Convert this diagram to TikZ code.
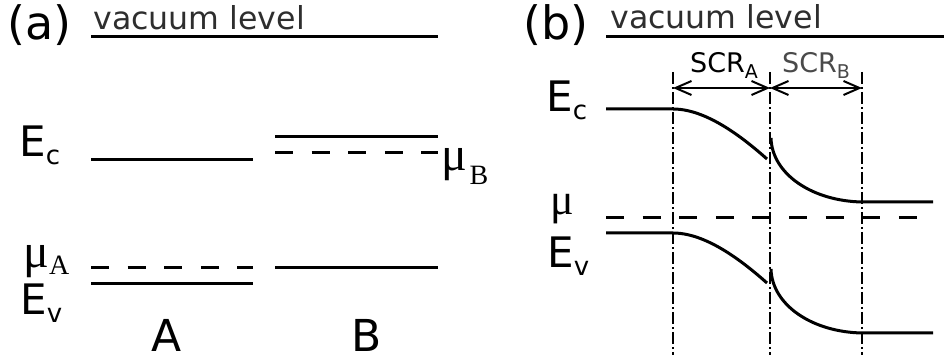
\documentclass[tikz,border=0pt]{standalone}
\usepackage{fontspec}
\setmainfont{DejaVu Sans}
\newfontfamily\fontemu{Liberation Serif}
\usetikzlibrary{
    positioning,
    calc,
    arrows.meta
}
\definecolor{CinzaTexto}{HTML}{2E2E2E}
\definecolor{CinzaEscuro}{HTML}{4A4A4A}

% rotulos de energia
\newcommand{\rotE}[1]{\fontsize{21}{21}\selectfont E\raisebox{-4pt}{\fontsize{13}{13}\selectfont #1}}
\newcommand{\rotMu}[3]{{\fontemu\fontsize{#1}{#1}\selectfont μ\raisebox{#2}{\fontsize{14}{14}\selectfont #3}}}
\newcommand{\rotSCR}[1]{\fontsize{13.5}{13.5}\selectfont SCR\raisebox{-3pt}{\fontsize{9.5}{9.5}\selectfont #1}}

\tikzset{
    nivel/.style={line width=1.5pt},
    fermi/.style={line width=1.5pt, dash pattern=on 9pt off 9.3pt},
    regiao/.style={line width=0.75pt, dash pattern=on 6pt off 1.5pt on 1pt off 1.5pt},
    texto/.style={inner sep=0pt, anchor=base west},
    vacuo/.style={inner sep=0pt, anchor=base west, text=CinzaTexto, font=\fontsize{15.8}{15.8}\selectfont},
    seta/.style={{Straight Barb[length=8pt,width=7pt]}-{Straight Barb[length=8pt,width=7pt]}, line width=1pt}
}

\begin{document}
\begin{tikzpicture}[x=0.5pt, y=-0.5pt]
    \useasboundingbox (0,0) rectangle (944,363);

    % (a) antes do contato
    \node[texto] (la) at (7,40) {\fontsize{23}{23}\selectfont (a)};
    \node[vacuo] (vaca) at (93,30) {vacuum level};
    \draw[nivel] (91,37) -- (438,37);

    \draw[nivel] (91,160) -- (253,160);
    \draw[fermi] (91,268) -- (253,268);
    \draw[nivel] (91,284) -- (253,284);

    \draw[nivel] (275,137) -- (438,137);
    \draw[fermi] (275,153) -- (438,153);
    \draw[nivel] (275,268) -- (438,268);

    \node[texto] (eca) at (19,157) {\rotE{c}};
    \node[texto] (eva) at (20,315) {\rotE{v}};
    \node[texto] (mua) at (23,268) {\rotMu{24}{-3.5pt}{A}};
    \node[texto] (mub) at (441,171) {\rotMu{24}{-7pt}{\kern1.2pt B}};
    \node[inner sep=0pt, anchor=base] (ma) at (167,352) {\fontsize{22}{22}\selectfont A};
    \node[inner sep=0pt, anchor=base] (mb) at (367,352) {\fontsize{22}{22}\selectfont B};

    % (b) depois do contato
    \node[texto] (lb) at (523,40) {\fontsize{23}{23}\selectfont (b)};
    \node[vacuo] (vacb) at (610,29) {vacuum level};
    \draw[nivel] (606,37) -- (944,37);

    \coordinate (s1) at (673,88);
    \coordinate (s2) at (770,88);
    \coordinate (s3) at (862,88);
    \foreach \c in {s1,s2,s3}
        \draw[regiao] (\c |- 0,72) -- (\c |- 0,355);
    \draw[seta] (s1) -- (s2);
    \draw[seta] (s2) -- (s3);
    \node[inner sep=0pt, anchor=base] (scra) at (724,73) {\rotSCR{A}};
    \node[inner sep=0pt, anchor=base, text=CinzaEscuro] (scrb) at (816,73) {\rotSCR{B}};

    \draw[nivel] (606,109) -- (673,109) .. controls (705,109) and (740,135) .. (767,159);
    \draw[nivel] (771,138) .. controls (772,174) and (812,201) .. (862,202) -- (933,202);
    \draw[fermi] (606,218) -- (918,218);
    \draw[nivel] (606,233) -- (673,233) .. controls (705,233) and (740,259) .. (767,283);
    \draw[nivel] (771,269) .. controls (772,305) and (812,332) .. (862,333) -- (933,333);

    \node[texto] (ecb) at (546,112) {\rotE{c}};
    \node[texto] (evb) at (547,268) {\rotE{v}};
    \node[texto] (mu) at (550,215) {\rotMu{22}{0pt}{}};
\end{tikzpicture}
\end{document}
